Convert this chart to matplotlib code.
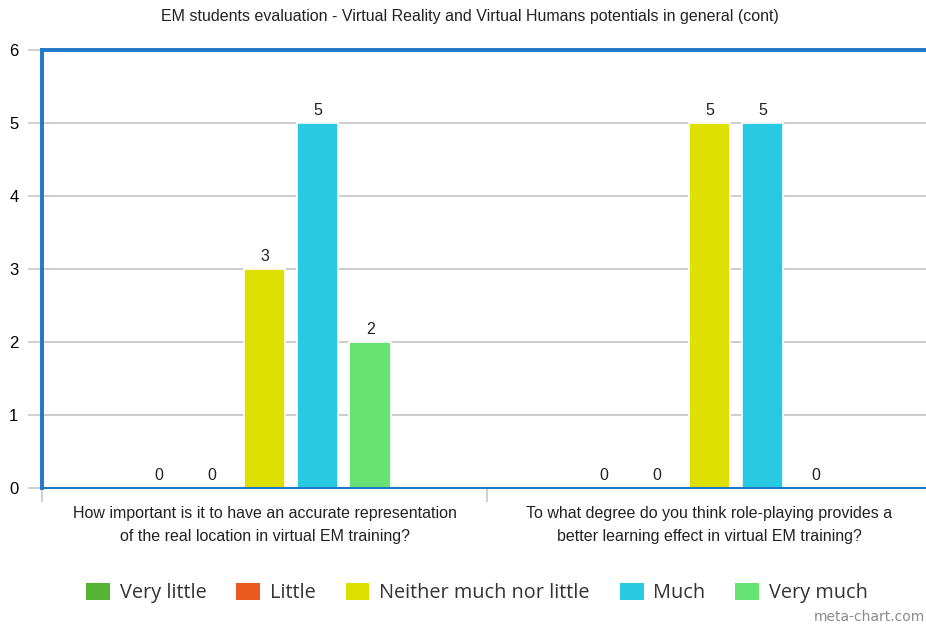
import matplotlib.pyplot as plt
import numpy as np
from matplotlib.patches import Patch

# data
questions = ["How important is it to have an accurate representation\nof the real location in virtual EM training?",
             "To what degree do you think role-playing provides a\nbetter learning effect in virtual EM training?"]
answers = ["Very little", "Little", "Neither much nor little", "Much", "Very much"]
very_little = [0, 0]
little = [0, 0]
neither = [3, 5]
much = [5, 5]
very_much = [2, 0]
colors = ["#55b434", "#eb5a1e", "#dde000", "#27c9e3", "#66e373"]

series = [very_little, little, neither, much, very_much]
blue = "#1f78c8"
grid_c = "#c8c8c8"

fig = plt.figure(figsize=(9.26, 6.24), dpi=100)
ax = fig.add_axes([42 / 926, 1 - 488 / 624, 890 / 926, 438 / 624])

x = np.arange(len(questions))
step = 0.119
width = 0.094
for i, (vals, col) in enumerate(zip(series, colors)):
    pos = x + (i - 2) * step
    bars = ax.bar(pos, vals, width=width, color=col, edgecolor="white", linewidth=1.2, zorder=3)
    for b, v in zip(bars, vals):
        if v == 0:
            b.set_edgecolor("none")
        ax.text(b.get_x() + b.get_width() / 2, v + 0.07, str(v), ha="center", va="bottom",
                fontsize=11.5, family="Liberation Sans", color="#222222", zorder=4)

ax.set_xlim(-0.5, 1.5)
ax.set_ylim(0, 6)

# grid and ticks
ax.set_yticks(range(0, 7))
ax.yaxis.grid(True, color=grid_c, linewidth=1.3, zorder=0)
ax.set_axisbelow(True)
ax.tick_params(axis="y", length=10, color=grid_c, width=1.2, pad=7, labelsize=12)
for t in ax.get_yticklabels():
    t.set_family("Liberation Sans")

ax.set_xticks(x)
ax.set_xticklabels(questions, fontsize=11.5, family="Liberation Sans", color="#222222", linespacing=1.65)
ax.set_xticks([-0.5, 0.5, 1.5], minor=True)
ax.tick_params(axis="x", which="major", length=0, pad=13)
ax.tick_params(axis="x", which="minor", length=10, color=grid_c, width=1.2)

for side in ["top", "left"]:
    ax.spines[side].set_color(blue)
    ax.spines[side].set_linewidth(2.8)
    ax.spines[side].set_zorder(5)
ax.spines["bottom"].set_color(blue)
ax.spines["bottom"].set_linewidth(1.5)
ax.spines["bottom"].set_zorder(5)
ax.spines["right"].set_visible(False)

# title
fig.text(470 / 926, 1 - 17 / 624, "EM students evaluation - Virtual Reality and Virtual Humans potentials in general (cont)",
         ha="center", va="center", fontsize=11.5, family="Liberation Sans", color="#222222")

# legend
handles = [Patch(facecolor=c, edgecolor="none") for c in colors]
leg = fig.legend(handles, answers, loc="center", bbox_to_anchor=(477 / 926, 1 - 593 / 624), ncol=5,
                 frameon=False, handlelength=1.2, handleheight=1.0, handletextpad=0.5,
                 columnspacing=1.5, prop={"family": "Open Sans", "size": 14.3})
for t in leg.get_texts():
    t.set_color("#333333")

# watermark
fig.text(925 / 926, 1 - 617 / 624, "meta-chart.com", ha="right", va="center", fontsize=10,
         family="DejaVu Sans", color="#8a8a8a")

fig.savefig("out.png", dpi=100)
